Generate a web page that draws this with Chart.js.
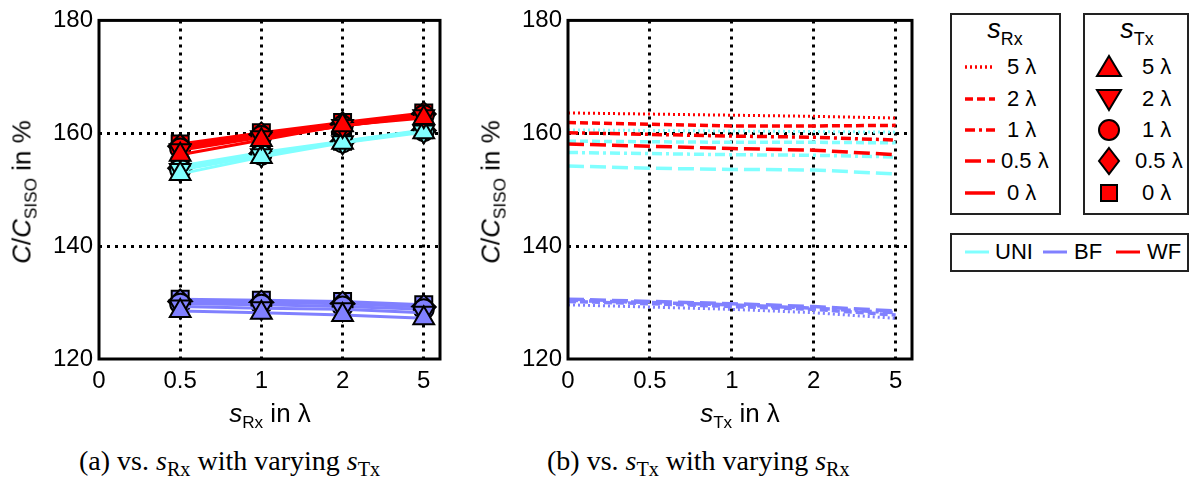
<!DOCTYPE html>
<html>
<head>
<meta charset="utf-8">
<script src="https://cdn.jsdelivr.net/npm/chart.js@4.4.0/dist/chart.umd.min.js"></script>
<style>
  body { margin: 0; width: 1198px; height: 484px; position: relative; overflow: hidden; background: #fff;
         font-family: "Liberation Sans", Arial, sans-serif; color: #000; }
  canvas { position: absolute; top: 0; }
  .abs { position: absolute; white-space: nowrap; }
  .ytitle { font-size: 26px; transform: translate(-50%, -50%) rotate(-90deg); }
  .xtitle { font-size: 26px; transform: translate(-50%, -50%); }
  .cap { font-family: "Liberation Serif", "Times New Roman", serif; font-size: 28px; transform: translateY(-50%); }
  .cap sub { font-size: 0.72em; vertical-align: -0.25em; }
  .box { position: absolute; border: 2px solid #222; box-sizing: border-box; }
  .lg { position: absolute; font-size: 22px; transform: translateY(-50%); white-space: nowrap; }
  .lgt { position: absolute; font-size: 27px; transform: translate(-50%, -50%); white-space: nowrap; }
  sub { font-size: 0.66em; vertical-align: -0.35em; }
  svg { position: absolute; overflow: visible; }
</style>
</head>
<body>
<canvas id="chartA" width="460" height="400" style="left:0"></canvas>
<canvas id="chartB" width="460" height="400" style="left:469px"></canvas>

<!-- titulos dos eixos -->
<div class="abs ytitle" style="left:24px; top:192px"><i>C</i>/<i>C</i><sub>SISO</sub> in %</div>
<div class="abs ytitle" style="left:493px; top:192px"><i>C</i>/<i>C</i><sub>SISO</sub> in %</div>
<div class="abs xtitle" style="left:270px; top:415px"><i>s</i><sub>Rx</sub> in λ</div>
<div class="abs xtitle" style="left:740px; top:415px"><i>s</i><sub>Tx</sub> in λ</div>
<div class="abs cap" style="left:79px; top:463px">(a) vs. <i>s</i><sub>Rx</sub> with varying <i>s</i><sub>Tx</sub></div>
<div class="abs cap" style="left:547px; top:463px">(b) vs. <i>s</i><sub>Tx</sub> with varying <i>s</i><sub>Rx</sub></div>

<!-- legendas -->
<div class="box" style="left:950px; top:13px; width:111px; height:202px"></div>
<div class="box" style="left:1083px; top:13px; width:106px; height:202px"></div>
<div class="box" style="left:950px; top:233px; width:239px; height:39px"></div>
<div id="legend"></div>

<script>
// Valores de s (rotulos do eixo x, iguais nos dois graficos)
const sLabels = ['0', '0.5', '1', '2', '5'];
const rxValues = ['0.5', '1', '2', '5'];        // linhas das matrizes
const txValues = ['0', '0.5', '1', '2', '5'];   // colunas das matrizes
const yTicks = [120, 140, 160, 180];

// C/C_SISO em %: linha = s_Rx (0.5,1,2,5), coluna = s_Tx (0,0.5,1,2,5)
const uniRates = [
  [154.2, 153.8, 153.6, 153.5, 152.8],
  [156.6, 156.4, 156.2, 156.1, 155.8],
  [158.6, 158.5, 158.4, 158.4, 158.3],
  [160.6, 160.5, 160.4, 160.3, 160.2],
];
const bfRates = [
  [130.6, 130.2, 129.8, 129.3, 128.5],
  [130.4, 130.0, 129.6, 129.0, 128.2],
  [130.2, 129.8, 129.3, 128.8, 127.8],
  [129.6, 129.2, 128.8, 128.2, 127.2],
];
const wfRates = [
  [158.1, 157.7, 157.3, 157.0, 156.2],
  [160.1, 159.8, 159.5, 159.3, 158.8],
  [161.9, 161.6, 161.3, 161.3, 161.4],
  [163.6, 163.4, 163.2, 163.0, 162.7],
];

// Estilos
const schemes = [
  { name: 'UNI', color: '#80ffff', rates: uniRates },
  { name: 'BF', color: '#8080ff', rates: bfRates },
  { name: 'WF', color: '#ff0000', rates: wfRates },
];
const rxDash = { '5': [2, 3], '2': [8, 4], '1': [10, 4, 3, 4], '0.5': [16, 6], '0': [] };
const txMarker = {
  '5': { style: 'triangle', rot: 0, r: 12 },
  '2': { style: 'triangle', rot: 180, r: 12 },
  '1': { style: 'circle', rot: 0, r: 10 },
  '0.5': { style: 'rectRot', rot: 0, r: 12 },
  '0': { style: 'rect', rot: 0, r: 12 },
};
const xPos = v => sLabels.indexOf(v);

// Grafico (a): x = s_Rx, uma curva por s_Tx
const dataA = [];
schemes.forEach(s => {
  txValues.forEach((tx, j) => {
    const m = txMarker[tx];
    dataA.push({
      data: rxValues.map((rx, i) => ({ x: xPos(rx), y: s.rates[i][j] })),
      borderColor: s.color,
      borderWidth: 3,
      backgroundColor: s.color,
      pointBackgroundColor: s.color,
      pointBorderColor: '#000',
      pointBorderWidth: 2,
      pointStyle: m.style,
      pointRotation: m.rot,
      pointRadius: m.r,
    });
  });
});

// Grafico (b): x = s_Tx, uma curva por s_Rx
const dataB = [];
schemes.forEach(s => {
  rxValues.forEach((rx, i) => {
    dataB.push({
      data: txValues.map((tx, j) => ({ x: xPos(tx), y: s.rates[i][j] })),
      borderColor: s.color,
      borderWidth: rx === '5' ? 3 : 3.5,
      borderDash: rxDash[rx],
      pointRadius: 0,
    });
  });
});

// moldura preta em volta da area do grafico
const framePlugin = {
  id: 'frame',
  afterDraw(chart) {
    const { ctx, chartArea: a } = chart;
    ctx.save();
    ctx.strokeStyle = '#000';
    ctx.lineWidth = 3;
    ctx.strokeRect(a.left, a.top, a.right - a.left, a.bottom - a.top);
    ctx.restore();
  }
};

const tickFont = { family: '"Liberation Sans", Arial, sans-serif', size: 24 };

const makeOptions = (padRight) => ({
  responsive: false,
  animation: false,
  layout: { padding: { top: 15, right: padRight, left: 0, bottom: 0 } },
  plugins: { legend: { display: false }, tooltip: { enabled: false } },
  scales: {
    x: {
      type: 'linear', min: 0, max: 4.2,
      afterBuildTicks: s => { s.ticks = sLabels.map((l, i) => ({ value: i })); },
      afterFit: s => { s.height = 41; },
      ticks: { callback: v => sLabels[v], color: '#000', font: tickFont, padding: 8, maxRotation: 0 },
      grid: {
        drawTicks: false, lineWidth: 3,
        color: c => (c.tick && c.tick.value > 0 ? '#000' : 'rgba(0,0,0,0)'),
      },
      border: { display: false, dash: [3, 5] },
    },
    y: {
      min: 120, max: 180,
      afterBuildTicks: s => { s.ticks = yTicks.map(v => ({ value: v })); },
      afterFit: s => { s.width = 99; },
      ticks: { color: '#000', font: tickFont, padding: 6 },
      grid: {
        drawTicks: false, lineWidth: 3,
        color: c => (c.tick && c.tick.value > 120 && c.tick.value < 180 ? '#000' : 'rgba(0,0,0,0)'),
      },
      border: { display: false, dash: [3, 5] },
    },
  },
});

// dataset 0 fica por cima, entao inverte (WF por cima)
new Chart(document.querySelector('#chartA'), {
  type: 'line',
  data: { datasets: dataA.reverse() },
  options: makeOptions(20),
  plugins: [framePlugin],
});
new Chart(document.querySelector('#chartB'), {
  type: 'line',
  data: { datasets: dataB.reverse() },
  options: makeOptions(17),
  plugins: [framePlugin],
});

// Legendas (HTML)
const legendEl = document.querySelector('#legend');
const rowY = [67, 99, 130, 161, 193];
const legendRx = ['5', '2', '1', '0.5', '0'];
const legendTx = ['5', '2', '1', '0.5', '0'];
let html = '';
html += `<div class="lgt" style="left:1005px; top:32px"><i>s</i><sub>Rx</sub></div>`;
html += `<div class="lgt" style="left:1137px; top:32px"><i>s</i><sub>Tx</sub></div>`;
legendRx.forEach((rx, k) => {
  const y = rowY[k];
  const dash = rxDash[rx].join(' ');
  html += `<svg style="left:965px; top:${y}px" width="30" height="1"><line x1="0" y1="0" x2="30" y2="0" stroke="#f00" stroke-width="3.5" stroke-dasharray="${dash}"/></svg>`;
  html += `<div class="lg" style="left:${rx === '0.5' ? 1001 : 1007}px; top:${y}px">${rx} λ</div>`;
});
const markerSvg = (tx) => {
  const st = 'fill="#f00" stroke="#000" stroke-width="2"';
  if (tx === '5') return `<polygon points="0,-11 12,9 -12,9" ${st}/>`;
  if (tx === '2') return `<polygon points="0,11 12,-9 -12,-9" ${st}/>`;
  if (tx === '1') return `<circle r="10" ${st}/>`;
  if (tx === '0.5') return `<polygon points="0,-13 10,0 0,13 -10,0" ${st}/>`;
  return `<rect x="-8" y="-8" width="16" height="16" ${st}/>`;
};
legendTx.forEach((tx, k) => {
  const y = rowY[k];
  html += `<svg style="left:1109px; top:${y}px" width="1" height="1">${markerSvg(tx)}</svg>`;
  html += `<div class="lg" style="left:${tx === '0.5' ? 1135 : 1142}px; top:${y}px">${tx} λ</div>`;
});
const schemeLegendX = [[965, 995], [1043, 1074], [1116, 1147]];
schemes.forEach((s, k) => {
  const [lx, tx] = schemeLegendX[k];
  html += `<svg style="left:${lx}px; top:252px" width="24" height="1"><line x1="0" y1="0" x2="24" y2="0" stroke="${s.color}" stroke-width="3"/></svg>`;
  html += `<div class="lg" style="left:${tx}px; top:252px">${s.name}</div>`;
});
legendEl.innerHTML = html;
</script>
</body>
</html>
